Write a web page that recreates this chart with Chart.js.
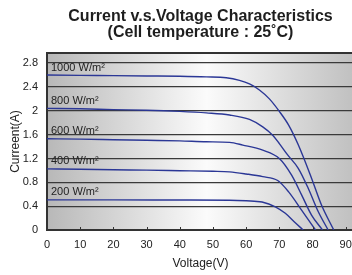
<!DOCTYPE html>
<html>
<head>
<meta charset="utf-8">
<script src="https://cdn.jsdelivr.net/npm/chart.js@4.4.0/dist/chart.umd.min.js"></script>
<style>
  html, body { margin: 0; padding: 0; background: #fff; overflow: hidden; }
</style>
</head>
<body>
<canvas id="ivChart" width="360" height="275"></canvas>
<script>
// I-V curves
const curveNames = ['1000 W/m²', '800 W/m²', '600 W/m²', '400 W/m²', '200 W/m²'];

const volts1000 = [0, 10, 20, 30, 40, 48, 54, 58, 61, 64, 67, 70, 72.8, 75.7, 79.7, 82.7, 86.4];
const amps1000  = [2.60, 2.595, 2.59, 2.585, 2.58, 2.57, 2.555, 2.51, 2.45, 2.35, 2.2, 1.99, 1.76, 1.43, 0.87, 0.42, 0];

const volts800 = [0, 10, 20, 30, 40, 48, 55, 61, 65, 68, 70, 72.5, 75.7, 78.7, 81.7, 84.7];
const amps800  = [2.04, 2.035, 2.02, 2.01, 1.99, 1.965, 1.93, 1.855, 1.73, 1.59, 1.45, 1.26, 1.035, 0.70, 0.31, 0];

const volts600 = [0, 10, 20, 30, 40, 48, 55, 59, 65, 70, 73.7, 76.7, 79.7, 83.0];
const amps600  = [1.53, 1.525, 1.515, 1.505, 1.495, 1.48, 1.47, 1.425, 1.34, 1.2, 0.92, 0.59, 0.25, 0];

const volts400 = [0, 10, 20, 30, 40, 50, 55, 60, 65, 69.5, 72.8, 76.7, 80.9];
const amps400  = [1.025, 1.02, 1.01, 1.005, 0.995, 0.985, 0.975, 0.94, 0.895, 0.83, 0.64, 0.335, 0];

const volts200 = [0, 20, 40, 55, 60, 64.8, 68.8, 71.8, 74.8, 77.2];
const amps200  = [0.505, 0.505, 0.503, 0.5, 0.49, 0.47, 0.39, 0.28, 0.12, 0];

const xTicks = [0, 10, 20, 30, 40, 50, 60, 70, 80, 90];
const yTicks = [0, 0.4, 0.8, 1.2, 1.6, 2, 2.4, 2.8];

const series = [
  [volts1000, amps1000],
  [volts800, amps800],
  [volts600, amps600],
  [volts400, amps400],
  [volts200, amps200]
];

const font = 'Liberation Sans, Arial, sans-serif';

const datasets = series.map((s, i) => ({
  label: curveNames[i],
  data: s[0].map((v, k) => ({ x: v, y: s[1][k] })),
  borderColor: '#2b3796',
  borderWidth: 1.4,
  pointRadius: 0,
  fill: false,
  cubicInterpolationMode: 'monotone'
}));

// grey gradient behind the plot, border on top, small ticks and curve names
const panelPlugin = {
  id: 'panel',
  beforeDraw(chart) {
    const { ctx, chartArea: a } = chart;
    const g = ctx.createLinearGradient(a.left, 0, a.right, 0);
    g.addColorStop(0, '#b8b8b8');
    g.addColorStop(0.52, '#fbfbfb');
    g.addColorStop(1, '#c0c0c0');
    ctx.save();
    ctx.fillStyle = g;
    ctx.fillRect(a.left, a.top, a.right - a.left, a.bottom - a.top);
    ctx.restore();
  },
  afterDraw(chart) {
    const { ctx, chartArea: a } = chart;
    const xs = chart.scales.x, ys = chart.scales.y;
    ctx.save();
    ctx.strokeStyle = '#333';
    ctx.lineWidth = 2;
    ctx.beginPath();
    ctx.moveTo(a.left - 1, a.top);
    ctx.lineTo(a.right, a.top);
    ctx.stroke();
    ctx.lineWidth = 1;
    xs.ticks.forEach((t, i) => {
      if (i === 0) return;
      const px = Math.round(xs.getPixelForValue(t.value)) + 0.5;
      ctx.beginPath();
      ctx.moveTo(px, a.bottom);
      ctx.lineTo(px, a.bottom - 3);
      ctx.stroke();
    });
    ctx.fillStyle = '#222';
    ctx.font = '11px ' + font;
    ctx.textBaseline = 'middle';
    series.forEach((s, i) => {
      const px = xs.getPixelForValue(0) + 4;
      const py = ys.getPixelForValue(s[1][0]) - 7.5;
      ctx.fillText(curveNames[i], px, py);
    });
    ctx.restore();
  }
};

const ctx = document.getElementById('ivChart').getContext('2d');
let ivChart = new Chart(ctx, {
  type: 'line',
  data: { datasets: datasets },
  plugins: [panelPlugin],
  options: {
    responsive: false,
    animation: false,
    layout: { padding: { right: 4 } },
    plugins: {
      legend: { display: false },
      tooltip: { enabled: false },
      title: {
        display: true,
        fullSize: false,
        text: ['Current v.s.Voltage Characteristics', '(Cell temperature : 25˚C)'],
        color: '#1e1e1e',
        font: { family: font, size: 16, weight: 'bold', lineHeight: 1.0 },
        padding: { top: 9, bottom: 12 }
      }
    },
    scales: {
      x: {
        type: 'linear',
        min: 0,
        max: 92.5,
        afterBuildTicks: s => { s.ticks = xTicks.map(v => ({ value: v })); },
        afterFit: s => { s.height = 45; },
        grid: { drawOnChartArea: false, drawTicks: false },
        border: { color: '#333', width: 2 },
        ticks: {
          color: '#222',
          padding: 8,
          font: { family: font, size: 11 },
          callback: v => String(v)
        },
        title: {
          display: true,
          text: 'Voltage(V)',
          color: '#222',
          font: { family: font, size: 12 },
          padding: { top: 4, bottom: 4 }
        }
      },
      y: {
        min: 0,
        max: 2.97,
        afterBuildTicks: s => { s.ticks = yTicks.map(v => ({ value: v })); },
        afterFit: s => { s.width = 47; },
        grid: { color: '#3a3a3a', lineWidth: 1.3, drawTicks: false },
        border: { color: '#333', width: 2 },
        ticks: {
          color: '#222',
          padding: 9,
          font: { family: font, size: 11 },
          callback: v => String(v)
        },
        title: {
          display: true,
          text: 'Curreent(A)',
          color: '#222',
          font: { family: font, size: 12 },
          padding: { top: 8, bottom: 4 }
        }
      }
    }
  }
});
</script>
</body>
</html>
